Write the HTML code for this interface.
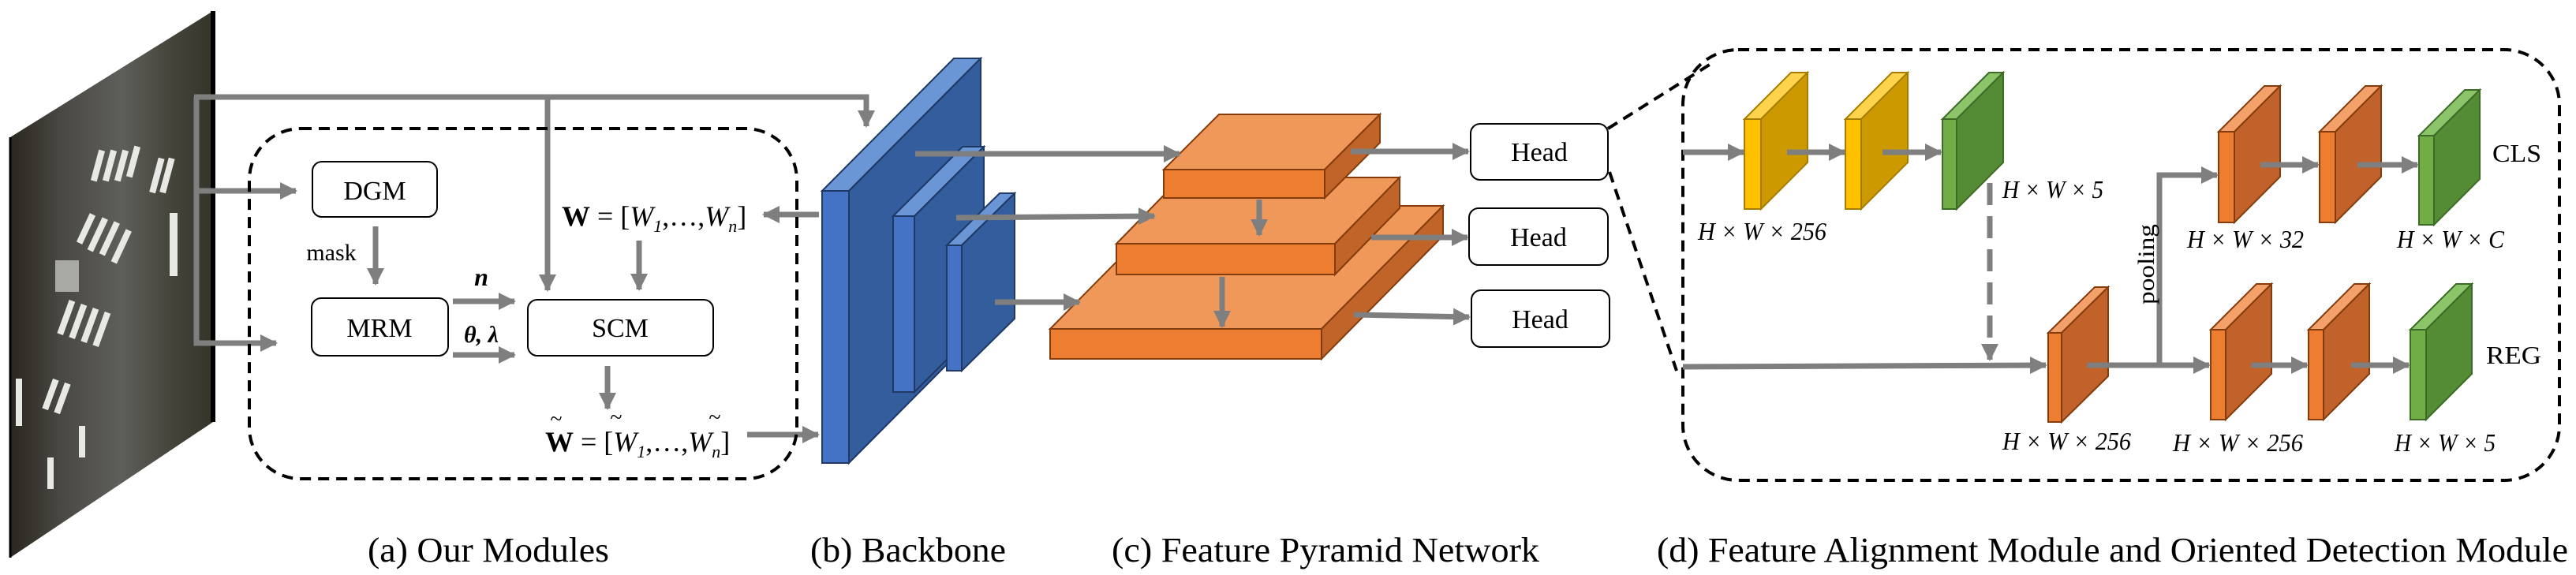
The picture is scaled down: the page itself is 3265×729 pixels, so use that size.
<!DOCTYPE html>
<html><head><meta charset="utf-8"><style>html,body{margin:0;padding:0;background:#fff}svg{display:block}</style></head><body>
<svg width="3265" height="729" viewBox="0 0 3265 729" xmlns="http://www.w3.org/2000/svg" font-family="Liberation Serif, serif">
<defs>
<marker id="a" markerUnits="userSpaceOnUse" markerWidth="24" markerHeight="24" refX="20" refY="11" orient="auto"><path d="M0,0 L22,11 L0,22 z" fill="#7f7f7f"/></marker>
<linearGradient id="sat" x1="0" y1="0" x2="1" y2="0"><stop offset="0" stop-color="#2a2620"/><stop offset="0.25" stop-color="#4a4843"/><stop offset="0.55" stop-color="#5e5e5a"/><stop offset="0.8" stop-color="#45443a"/><stop offset="1" stop-color="#34342a"/></linearGradient>
<clipPath id="cp"><polygon points="13,174 270,14 270,535 13,707"/></clipPath>
</defs>
<polygon points="13,174 270,14 270,535 13,707" fill="url(#sat)"/>
<g clip-path="url(#cp)" fill="#e8e8e4">
<rect x="120" y="190" width="8" height="40" transform="rotate(15 124 210)"/><rect x="135" y="190" width="8" height="40" transform="rotate(15 139 210)"/><rect x="150" y="190" width="8" height="40" transform="rotate(15 154 210)"/><rect x="165" y="185" width="8" height="40" transform="rotate(15 169 205)"/>
<rect x="195" y="200" width="8" height="45" transform="rotate(15 199 222)"/><rect x="208" y="200" width="8" height="45" transform="rotate(15 212 222)"/>
<rect x="105" y="270" width="8" height="40" transform="rotate(25 109 290)"/><rect x="120" y="275" width="8" height="45" transform="rotate(25 124 297)"/><rect x="135" y="280" width="8" height="45" transform="rotate(25 139 302)"/><rect x="150" y="290" width="8" height="45" transform="rotate(25 154 312)"/>
<rect x="215" y="270" width="10" height="80"/><rect x="80" y="380" width="8" height="45" transform="rotate(20 84 402)"/><rect x="95" y="385" width="8" height="45" transform="rotate(20 99 407)"/><rect x="110" y="390" width="8" height="45" transform="rotate(20 114 412)"/><rect x="125" y="395" width="8" height="45" transform="rotate(20 129 417)"/>
<rect x="60" y="480" width="8" height="40" transform="rotate(20 64 500)"/><rect x="75" y="485" width="8" height="40" transform="rotate(20 79 505)"/><rect x="20" y="480" width="8" height="60"/><rect x="100" y="540" width="8" height="40"/><rect x="60" y="580" width="8" height="40"/>
<rect x="70" y="330" width="30" height="40" fill="#a8a8a4"/>
</g>
<line x1="270" y1="14" x2="270" y2="535" stroke="#000" stroke-width="6"/>
<line x1="13" y1="174" x2="13" y2="707" stroke="#000" stroke-width="3"/>

<g stroke="#7f7f7f" stroke-width="7" fill="none">
<polyline points="246,123 1098,123 1098,160" marker-end="url(#a)"/>
<polyline points="249,123 249,435 350,435" marker-end="url(#a)"/>
<line x1="249" y1="242" x2="375" y2="242" marker-end="url(#a)"/>
<line x1="694" y1="123" x2="694" y2="368" marker-end="url(#a)"/>
<line x1="476" y1="287" x2="476" y2="360" marker-end="url(#a)"/>
<line x1="574" y1="382" x2="652" y2="382" marker-end="url(#a)"/>
<line x1="574" y1="450" x2="652" y2="450" marker-end="url(#a)"/>
<line x1="1038" y1="272" x2="968" y2="272" marker-end="url(#a)"/>
<line x1="810" y1="305" x2="810" y2="367" marker-end="url(#a)"/>
<line x1="770" y1="464" x2="770" y2="518" marker-end="url(#a)"/>
<line x1="947" y1="551" x2="1037" y2="551" marker-end="url(#a)"/>
</g>
<rect x="316" y="163" width="694" height="444" rx="65" fill="none" stroke="#000" stroke-width="4" stroke-dasharray="14,9"/>
<g fill="#fff" stroke="#000" stroke-width="2"><rect x="396" y="205" width="158" height="70" rx="12"/><rect x="395" y="378" width="173" height="73" rx="12"/><rect x="669" y="380" width="235" height="71" rx="12"/></g>
<g font-size="34" text-anchor="middle"><text x="475" y="253">DGM</text><text x="481" y="427">MRM</text><text x="786" y="427">SCM</text></g>
<text x="420" y="330" font-size="30" text-anchor="middle">mask</text>
<text x="610" y="362" font-size="32" font-style="italic" font-weight="bold" text-anchor="middle">n</text>
<text x="610" y="434" font-size="30" font-style="italic" font-weight="bold" text-anchor="middle">θ, λ</text>
<text x="712" y="286" font-size="36"><tspan font-weight="bold">W</tspan> = [<tspan font-style="italic">W</tspan><tspan font-size="22" font-style="italic" dy="8">1</tspan><tspan dy="-8">,…,</tspan><tspan font-style="italic">W</tspan><tspan font-size="22" font-style="italic" dy="8">n</tspan><tspan dy="-8">]</tspan></text>
<text x="691" y="572" font-size="36"><tspan font-weight="bold">W</tspan> = [<tspan font-style="italic">W</tspan><tspan font-size="22" font-style="italic" dy="8">1</tspan><tspan dy="-8">,…,</tspan><tspan font-style="italic">W</tspan><tspan font-size="22" font-style="italic" dy="8">n</tspan><tspan dy="-8">]</tspan></text>
<g font-size="28" text-anchor="middle"><text x="705" y="540">~</text><text x="781" y="538">~</text><text x="906" y="538">~</text></g>

<g stroke="#1f3864" stroke-width="2">
<polygon points="1042,242 1209,74 1243,74 1076,242" fill="#6a96d6"/><polygon points="1076,242 1243,74 1243,419 1076,587" fill="#345d9e"/><rect x="1042" y="242" width="34" height="345" fill="#4472c4"/>
<polygon points="1132,274 1220,186 1247,186 1159,274" fill="#6a96d6"/><polygon points="1159,274 1247,186 1247,409 1159,497" fill="#345d9e"/><rect x="1132" y="274" width="27" height="223" fill="#4472c4"/>
<polygon points="1200,311 1267,245 1286,245 1219,311" fill="#6a96d6"/><polygon points="1219,311 1286,245 1286,404 1219,470" fill="#345d9e"/><rect x="1200" y="311" width="19" height="159" fill="#4472c4"/>
</g>
<g stroke="#843c0c" stroke-width="2">
<polygon points="1331,417 1485,261 1829,261 1675,417" fill="#f0975a"/><polygon points="1675,417 1829,261 1829,299 1675,455" fill="#c0642a"/><rect x="1331" y="417" width="344" height="38" fill="#ed7d31"/>
<polygon points="1415,309 1497,225 1774,225 1692,309" fill="#f0975a"/><polygon points="1692,309 1774,225 1774,264 1692,348" fill="#c0642a"/><rect x="1415" y="309" width="277" height="39" fill="#ed7d31"/>
<polygon points="1475,215 1545,145 1749,145 1679,215" fill="#f0975a"/><polygon points="1679,215 1749,145 1749,181 1679,251" fill="#c0642a"/><rect x="1475" y="215" width="204" height="36" fill="#ed7d31"/>
</g>
<g stroke="#7f7f7f" stroke-width="7" fill="none">
<line x1="1160" y1="195" x2="1495" y2="195" marker-end="url(#a)"/>
<line x1="1212" y1="276" x2="1463" y2="274" marker-end="url(#a)"/>
<line x1="1261" y1="383" x2="1368" y2="383" marker-end="url(#a)"/>
<line x1="1596" y1="253" x2="1596" y2="298" marker-end="url(#a)"/>
<line x1="1549" y1="351" x2="1549" y2="414" marker-end="url(#a)"/>
<line x1="1712" y1="192" x2="1861" y2="192" marker-end="url(#a)"/>
<line x1="1738" y1="301" x2="1860" y2="301" marker-end="url(#a)"/>
<line x1="1716" y1="399" x2="1862" y2="402" marker-end="url(#a)"/>
</g>
<g fill="#fff" stroke="#000" stroke-width="2"><rect x="1864" y="157" width="174" height="71" rx="12"/><rect x="1862" y="264" width="176" height="72" rx="12"/><rect x="1865" y="368" width="175" height="72" rx="12"/></g>
<g font-size="34" text-anchor="middle"><text x="1951" y="204">Head</text><text x="1950" y="312">Head</text><text x="1952" y="416">Head</text></g>
<g stroke="#000" stroke-width="4" stroke-dasharray="14,9" fill="none">
<line x1="2038" y1="163" x2="2170" y2="80"/>
<line x1="2040" y1="218" x2="2125" y2="470"/>
<rect x="2133" y="63" width="1111" height="546" rx="70"/>
</g>
<g stroke-width="2">
<g stroke="#a67c00"><polygon points="2211,151 2270,92 2291,92 2232,151" fill="#ffd44d"/><polygon points="2232,151 2291,92 2291,206 2232,265" fill="#cc9a00"/><rect x="2211" y="151" width="21" height="114" fill="#ffc000"/>
<polygon points="2339,151 2398,92 2418,92 2359,151" fill="#ffd44d"/><polygon points="2359,151 2418,92 2418,206 2359,265" fill="#cc9a00"/><rect x="2339" y="151" width="20" height="114" fill="#ffc000"/></g>
<g stroke="#3b6b25"><polygon points="2462,151 2521,92 2539,92 2480,151" fill="#8cc46a"/><polygon points="2480,151 2539,92 2539,206 2480,265" fill="#548c36"/><rect x="2462" y="151" width="18" height="114" fill="#70ad47"/>
<polygon points="3066,172 3124,114 3143,114 3085,172" fill="#8cc46a"/><polygon points="3085,172 3143,114 3143,227 3085,285" fill="#548c36"/><rect x="3066" y="172" width="19" height="113" fill="#70ad47"/>
<polygon points="3055,418 3113,360 3133,360 3075,418" fill="#8cc46a"/><polygon points="3075,418 3133,360 3133,474 3075,532" fill="#548c36"/><rect x="3055" y="418" width="20" height="114" fill="#70ad47"/></g>
<g stroke="#843c0c"><polygon points="2596,422 2655,364 2672,364 2613,422" fill="#f4a06a"/><polygon points="2613,422 2672,364 2672,477 2613,535" fill="#c0622a"/><rect x="2596" y="422" width="17" height="113" fill="#ed7d31"/>
<polygon points="2812,167 2870,109 2890,109 2832,167" fill="#f4a06a"/><polygon points="2832,167 2890,109 2890,224 2832,282" fill="#c0622a"/><rect x="2812" y="167" width="20" height="115" fill="#ed7d31"/>
<polygon points="2940,167 2998,109 3018,109 2960,167" fill="#f4a06a"/><polygon points="2960,167 3018,109 3018,224 2960,282" fill="#c0622a"/><rect x="2940" y="167" width="20" height="115" fill="#ed7d31"/>
<polygon points="2802,418 2860,360 2879,360 2821,418" fill="#f4a06a"/><polygon points="2821,418 2879,360 2879,474 2821,532" fill="#c0622a"/><rect x="2802" y="418" width="19" height="114" fill="#ed7d31"/>
<polygon points="2926,418 2984,360 3003,360 2945,418" fill="#f4a06a"/><polygon points="2945,418 3003,360 3003,474 2945,532" fill="#c0622a"/><rect x="2926" y="418" width="19" height="114" fill="#ed7d31"/></g>
</g>
<g stroke="#7f7f7f" stroke-width="7" fill="none">
<line x1="2133" y1="193" x2="2210" y2="193" marker-end="url(#a)"/>
<line x1="2265" y1="193" x2="2338" y2="193" marker-end="url(#a)"/>
<line x1="2386" y1="193" x2="2460" y2="193" marker-end="url(#a)"/>
<line x1="2133" y1="465" x2="2593" y2="463" marker-end="url(#a)"/>
<line x1="2522" y1="232" x2="2522" y2="456" stroke-dasharray="28,14" marker-end="url(#a)"/>
<line x1="2645" y1="463" x2="2800" y2="463" marker-end="url(#a)"/>
<polyline points="2737,463 2737,222 2810,222" marker-end="url(#a)"/>
<line x1="2865" y1="209" x2="2938" y2="209" marker-end="url(#a)"/>
<line x1="2988" y1="209" x2="3064" y2="209" marker-end="url(#a)"/>
<line x1="2853" y1="463" x2="2924" y2="463" marker-end="url(#a)"/>
<line x1="2980" y1="463" x2="3053" y2="463" marker-end="url(#a)"/>
</g>
<g font-size="32" font-style="italic">
<text x="2152" y="304" textLength="163" lengthAdjust="spacingAndGlyphs">H × W × 256</text>
<text x="2538" y="251" textLength="128" lengthAdjust="spacingAndGlyphs">H × W × 5</text>
<text x="2538" y="570" textLength="163" lengthAdjust="spacingAndGlyphs">H × W × 256</text>
<text x="2772" y="314" textLength="148" lengthAdjust="spacingAndGlyphs">H × W × 32</text>
<text x="3038" y="314" textLength="136" lengthAdjust="spacingAndGlyphs">H × W × C</text>
<text x="2754" y="572" textLength="165" lengthAdjust="spacingAndGlyphs">H × W × 256</text>
<text x="3035" y="572" textLength="128" lengthAdjust="spacingAndGlyphs">H × W × 5</text>
</g>
<g font-size="32"><text x="3159" y="205" textLength="62" lengthAdjust="spacingAndGlyphs">CLS</text><text x="3151" y="461" textLength="70" lengthAdjust="spacingAndGlyphs">REG</text></g>
<text transform="translate(2730,386) rotate(-90)" font-size="30" textLength="102" lengthAdjust="spacingAndGlyphs">pooling</text>
<g font-size="44">
<text x="466" y="712" textLength="306" lengthAdjust="spacingAndGlyphs">(a) Our Modules</text>
<text x="1027" y="712" textLength="248" lengthAdjust="spacingAndGlyphs">(b) Backbone</text>
<text x="1409" y="712" textLength="542" lengthAdjust="spacingAndGlyphs">(c) Feature Pyramid Network</text>
<text x="2100" y="712" textLength="1155" lengthAdjust="spacingAndGlyphs">(d) Feature Alignment Module and Oriented Detection Module</text>
</g>
</svg>
</body></html>
